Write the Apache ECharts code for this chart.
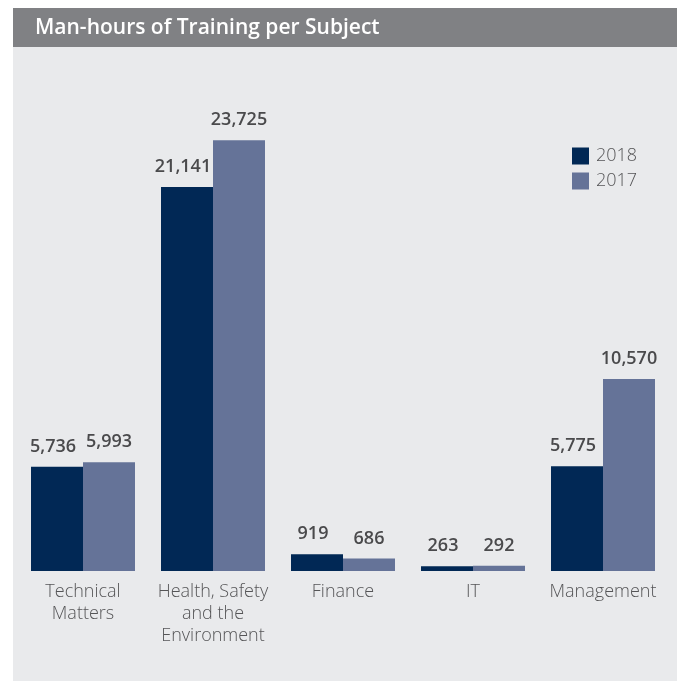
<!DOCTYPE html>
<html>
<head>
<meta charset="utf-8">
<script src="https://cdn.jsdelivr.net/npm/echarts@6/dist/echarts.min.js"></script>
<style>
  html, body { margin: 0; padding: 0; background: #ffffff; }
  #chart { width: 677px; height: 683px; }
</style>
</head>
<body>
<div id="chart"></div>
<script>
// data
const subjects = ['Technical\nMatters', 'Health, Safety\nand the\nEnvironment', 'Finance', 'IT', 'Management'];
const hours2018 = [5736, 21141, 919, 263, 5775];
const hours2017 = [5993, 23725, 686, 292, 10570];

const FONT = '"Open Sans", Lato, sans-serif';
const myChart = echarts.init(document.getElementById('chart'));

const valueLabel = {
  show: true,
  position: 'top',
  distance: 11,
  color: '#4a4a4c',
  fontFamily: FONT,
  fontSize: 18,
  fontWeight: 600,
  formatter: (p) => p.value.toLocaleString('en-US'),
};

const option = {
  animation: false,
  backgroundColor: '#ffffff',
  graphic: [
    // light panel
    { type: 'rect', z: -10, shape: { x: 13, y: 47, width: 664, height: 634 }, style: { fill: '#e9eaec' } },
    // title bar
    { type: 'rect', z: -10, shape: { x: 13, y: 8, width: 664, height: 39 }, style: { fill: '#808184' } },
  ],
  title: {
    text: 'Man-hours of Training per Subject',
    left: 35,
    top: 18,
    padding: 0,
    textStyle: { color: '#ffffff', fontFamily: FONT, fontSize: 21, fontWeight: 600 },
  },
  legend: {
    orient: 'vertical',
    left: 567,
    top: 142,
    itemWidth: 17,
    itemHeight: 17,
    itemGap: 7,
    icon: 'rect',
    textStyle: { color: '#555557', fontFamily: FONT, fontSize: 18, fontWeight: 300, padding: [0, 0, 0, 2] },
    data: ['2018', '2017'],
  },
  grid: { left: 18, right: 9, top: 117, bottom: 112 },
  xAxis: {
    type: 'category',
    data: subjects,
    axisLine: { show: false },
    axisTick: { show: false },
    axisLabel: {
      margin: 10,
      interval: 0,
      color: '#555557',
      fontFamily: FONT,
      fontSize: 18,
      fontWeight: 300,
      lineHeight: 22,
      verticalAlign: 'top',
    },
  },
  yAxis: { type: 'value', min: 0, max: 25000, show: false, splitLine: { show: false } },
  series: [
    {
      name: '2018',
      type: 'bar',
      data: hours2018,
      barGap: '0%',
      barCategoryGap: '20%',
      itemStyle: { color: '#012855' },
      label: Object.assign({}, valueLabel, { offset: [-4, 0] }),
    },
    {
      name: '2017',
      type: 'bar',
      data: hours2017,
      barGap: '0%',
      barCategoryGap: '20%',
      itemStyle: { color: '#657398' },
      label: valueLabel,
    },
  ],
};
myChart.setOption(option);
</script>
</body>
</html>
